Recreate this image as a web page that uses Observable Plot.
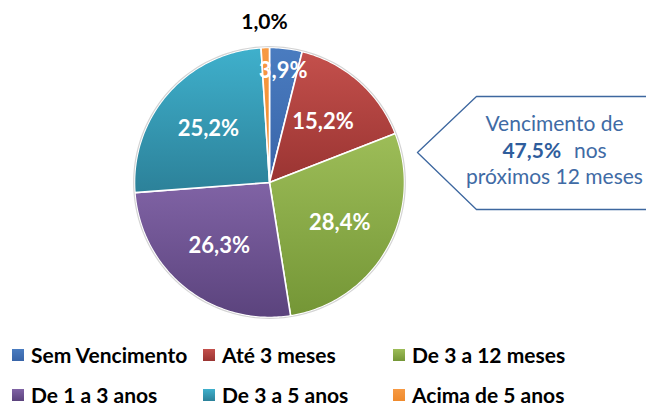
<!DOCTYPE html>
<html>
<head>
<meta charset="utf-8">
<script src="https://cdn.jsdelivr.net/npm/d3@7"></script>
<script src="https://cdn.jsdelivr.net/npm/@observablehq/plot@0.6"></script>
<style>
  body { margin: 0; background: #fff; }
  #wrap { width: 646px; height: 406px; position: relative; overflow: hidden; font-family: Lato, "Open Sans", sans-serif; }
  #wrap svg { display: block; }
  #legend { display: grid; grid-template-columns: 191px 190px auto; grid-auto-rows: 40px; padding-left: 12px; }
  .item { display: flex; align-items: center; font-weight: bold; font-size: 21px; line-height: 24px; color: #000; white-space: nowrap; }
  .sw { width: 12px; height: 12px; margin-right: 7px; flex: none; }
</style>
</head>
<body>
<div id="wrap"></div>
<script>
// ---- data ----
const categories = ["Sem Vencimento", "Até 3 meses", "De 3 a 12 meses", "De 1 a 3 anos", "De 3 a 5 anos", "Acima de 5 anos"];
const values = [3.9, 15.2, 28.4, 26.3, 25.2, 1.0];
const labels = ["3,9%", "15,2%", "28,4%", "26,3%", "25,2%", "1,0%"];
const colorsTop = ["#4a7cc0", "#c4504c", "#9dbd58", "#8063a5", "#3fb0cc", "#f79a43"];
const colorsBottom = ["#3864a8", "#9a3432", "#749636", "#5b437d", "#2c8199", "#ef8a2c"];
const calloutLines = ["Vencimento de", "47,5%", "nos", "próximos 12 meses"];

// ---- pie geometry (in pie units, radius 1) ----
const total = d3.sum(values);
const slices = [];
let acc = 0;
values.forEach((v, i) => {
  const a0 = acc / total * 2 * Math.PI;
  acc += v;
  const a1 = acc / total * 2 * Math.PI;
  slices.push({cat: categories[i], a0, a1, value: v, label: labels[i]});
});
const slicePts = [];
for (const s of slices) {
  slicePts.push({cat: s.cat, x: 0, y: 0});
  const n = Math.max(2, Math.ceil((s.a1 - s.a0) / (Math.PI / 180)));
  for (let k = 0; k <= n; k++) {
    const a = s.a0 + (s.a1 - s.a0) * k / n;
    slicePts.push({cat: s.cat, x: Math.sin(a), y: Math.cos(a)});
  }
  slicePts.push({cat: s.cat, x: 0, y: 0});
}
const ring = d3.range(0, 361, 2).map(d => ({x: 1.006 * Math.sin(d * Math.PI / 180), y: 1.006 * Math.cos(d * Math.PI / 180)}));
const labelData = slices.map(s => {
  const m = (s.a0 + s.a1) / 2;
  const f = s.value >= 10 ? 0.6 : s.value >= 2 ? 0.83 : 1.19;
  return {x: f * Math.sin(m), y: f * Math.cos(m), label: s.label, outside: s.value < 2};
});

// callout (annotation, in pie units)
const callout = [
  {x: 2.82, y: 0.637}, {x: 1.533, y: 0.637}, {x: 1.096, y: 0.222},
  {x: 1.533, y: -0.2}, {x: 2.82, y: -0.2}
];

const gradIds = categories.map((c, i) => `g${i}`);

const plot = Plot.plot({
  width: 646, height: 335,
  margin: 0,
  x: {domain: [-1, 1], range: [134, 404], axis: null},
  y: {domain: [-1, 1], range: [317, 47], axis: null},
  color: {domain: categories, range: gradIds.map(id => `url(#${id})`)},
  style: {fontFamily: "Lato, 'Open Sans', sans-serif", background: "white"},
  marks: [
    Plot.line(slicePts, {x: "x", y: "y", z: "cat", fill: "cat", stroke: "white", strokeWidth: 1.6, strokeLinejoin: "round"}),
    Plot.line(ring, {x: "x", y: "y", stroke: "#d4d4d4", strokeWidth: 1.2}),
    Plot.text(labelData.filter(d => !d.outside), {x: "x", y: "y", text: "label", fill: "white", fontSize: 22, fontWeight: "bold"}),
    Plot.text(labelData.filter(d => d.outside), {x: "x", y: "y", text: "label", fill: "black", fontSize: 21, fontWeight: "bold"}),
    Plot.line(callout, {x: "x", y: "y", stroke: "#3d679f", strokeWidth: 1.3}),
    Plot.text([calloutLines[0]], {x: 2.111, y: 0.43, text: d => d, fill: "#3f6ba5", fontSize: 21}),
    Plot.text([calloutLines[1]], {x: 2.16, y: 0.235, text: d => d, fill: "#2f5d9c", fontSize: 21, fontWeight: "bold", textAnchor: "end"}),
    Plot.text([calloutLines[2]], {x: 2.255, y: 0.235, text: d => d, fill: "#3f6ba5", fontSize: 21, textAnchor: "start"}),
    Plot.text([calloutLines[3]], {x: 2.111, y: 0.04, text: d => d, fill: "#3f6ba5", fontSize: 21})
  ]
});

// gradients
const svg = d3.select(plot);
const defs = svg.insert("defs", ":first-child");
gradIds.forEach((id, i) => {
  const g = defs.append("linearGradient").attr("id", id).attr("x1", 0).attr("y1", 0).attr("x2", 0).attr("y2", 1);
  g.append("stop").attr("offset", "0%").attr("stop-color", colorsTop[i]);
  g.append("stop").attr("offset", "100%").attr("stop-color", colorsBottom[i]);
});

const wrap = document.getElementById("wrap");
wrap.appendChild(plot);

// legend
const legend = document.createElement("div");
legend.id = "legend";
categories.forEach((c, i) => {
  const it = document.createElement("div");
  it.className = "item";
  const sw = document.createElement("span");
  sw.className = "sw";
  sw.style.background = `linear-gradient(${colorsTop[i]}, ${colorsBottom[i]})`;
  it.appendChild(sw);
  it.appendChild(document.createTextNode(c));
  legend.appendChild(it);
});
wrap.appendChild(legend);
</script>
</body>
</html>
